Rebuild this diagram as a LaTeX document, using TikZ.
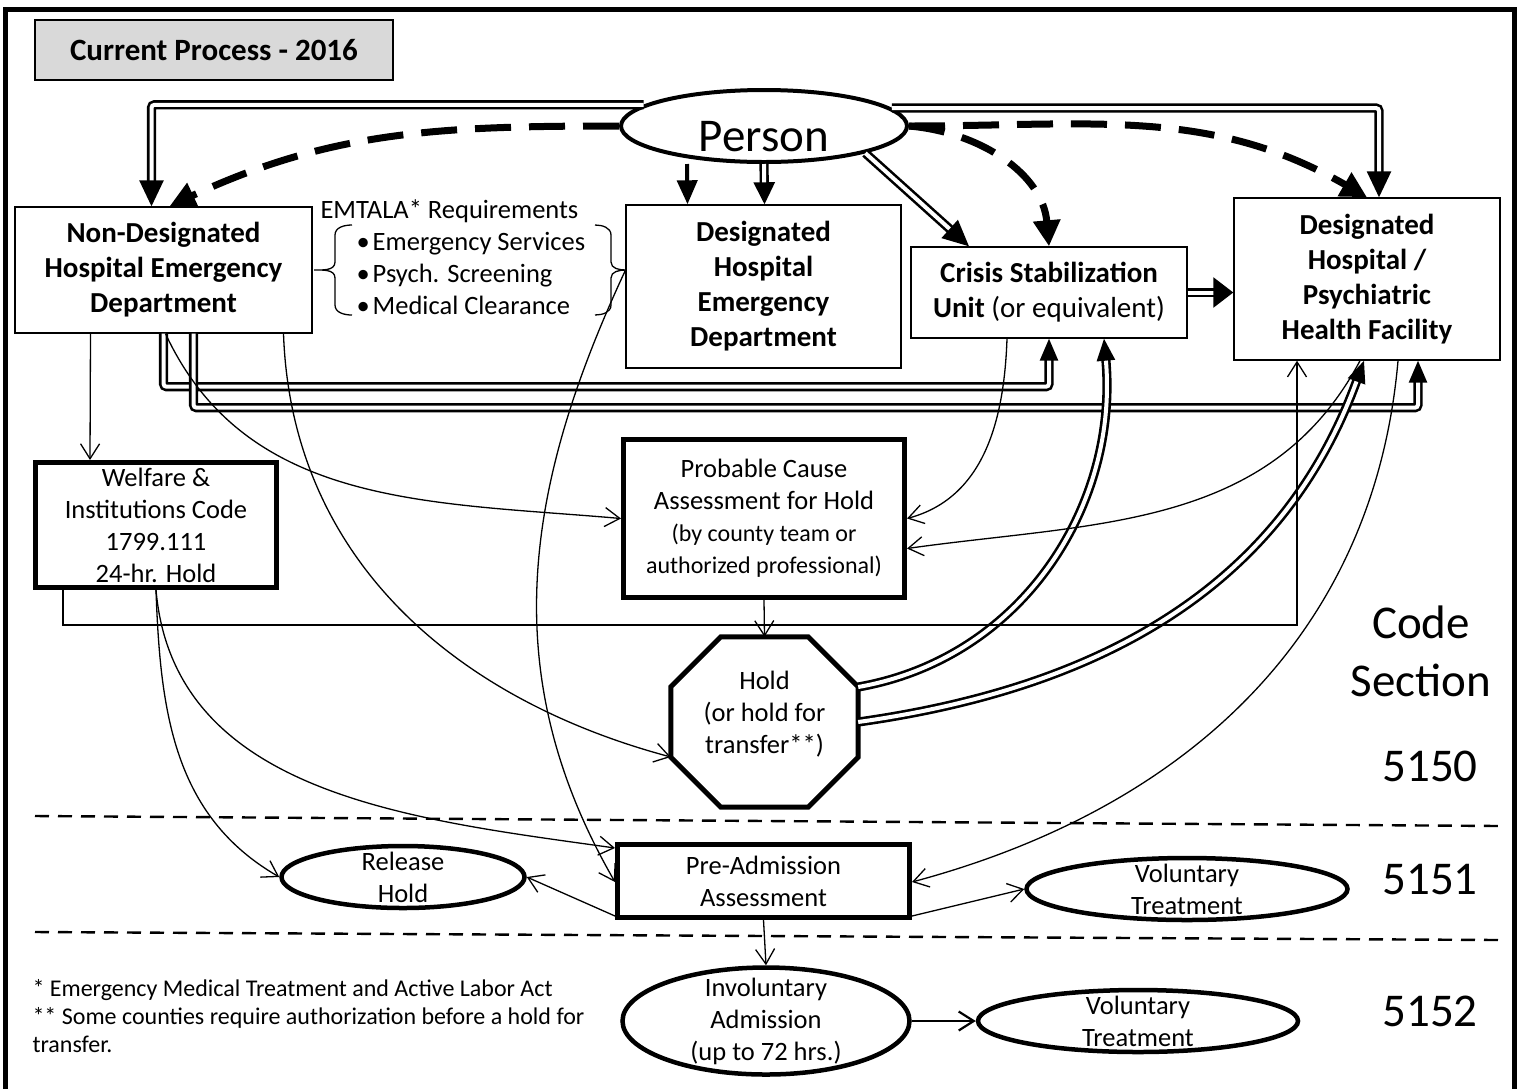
\documentclass[tikz,border=0pt]{standalone}
\usepackage{fontspec}
\setmainfont{Carlito}
\usetikzlibrary{arrows.meta}
\usetikzlibrary{shapes.geometric}
\usetikzlibrary{calc}
\newcommand{\txtreg}{\fontsize{26.5pt}{32pt}\selectfont}
\newcommand{\txtsmall}{\fontsize{24pt}{29pt}\selectfont}
\newcommand{\txtbold}{\fontsize{29pt}{35pt}\selectfont\bfseries}
\newcommand{\txtbig}{\fontsize{47pt}{58pt}\selectfont}
\newcommand{\txtnote}{\fontsize{24pt}{28pt}\selectfont}
\newcommand{\bul}{\hspace*{36pt}\textbullet\hspace{3pt}}

\begin{document}
\begin{tikzpicture}[x=1pt, y=-1pt,
	box/.style={draw, line width=1.4pt, align=center, inner sep=0pt},
	heavybox/.style={draw, line width=5pt, align=center, inner sep=0pt},
	oval/.style={draw, ellipse, line width=4.5pt, inner sep=0pt},
	thin/.style={line width=1.3pt, -{Straight Barb[length=15pt,width=19pt]}},
	dbl/.style={double, double distance=4pt, line width=2.6pt, rounded corners=3pt, -{Triangle[length=26pt,width=24pt]}},
	dasharr/.style={line width=7pt, dash pattern=on 36pt off 18pt, -{Triangle[length=26pt,width=26pt]}},
	sep/.style={line width=2.4pt, dash pattern=on 14pt off 9pt}]
	\useasboundingbox (0,0) rectangle (1525,1088);
	% frame
	\draw[line width=5pt] (5,1095) -- (5,9) -- (1514,9) -- (1514,1095);
	\node[box, fill=gray!30, minimum width=358pt, minimum height=60pt, font=\fontsize{31pt}{36pt}\selectfont\bfseries] (title) at (214,50) {Current Process - 2016};
	
	% top row
	\node[oval, line width=4pt, minimum width=286pt, minimum height=72pt, label={[yshift=-11pt, font=\txtbig]center:Person}] (person) at (764,126) {};
	\node[box, minimum width=297pt, minimum height=126pt, font=\txtbold] (ndhed) at (163.5,270) {Non-Designated\\Hospital Emergency\\Department};
	\node[box, minimum width=275pt, minimum height=163pt, font=\txtbold] (dhed) at (763.5,286.5) {Designated\\Hospital\\Emergency\\Department};
	\node[box, minimum width=276pt, minimum height=91pt, font=\txtbold] (csu) at (1049,292.5) {Crisis Stabilization\\Unit {\mdseries (or equivalent)}};
	\node[box, minimum width=266pt, minimum height=162pt, font=\txtbold] (dh) at (1367,279) {Designated\\Hospital /\\Psychiatric\\Health Facility};
	\node[font=\txtreg, align=left, anchor=west] (emtala) at (317,257) {EMTALA* Requirements\\\bul Emergency Services\\\bul Psych. Screening\\\bul Medical Clearance};
	% braces
	\draw[line width=1.3pt] (352,225) to[out=180,in=90] (335,235) -- (335,262) to[out=-90,in=0] (314,270) to[out=0,in=90] (335,278) -- (335,305) to[out=-90,in=180] (352,315);
	\draw[line width=1.3pt] (595,225) to[out=0,in=90] (611,235) -- (611,262) to[out=-90,in=180] (626,270) to[out=180,in=90] (611,278) -- (611,305) to[out=-90,in=0] (595,315);
	
	% middle row
	\node[heavybox, minimum width=241pt, minimum height=125pt, font=\txtreg] (welfare) at (156,525) {Welfare \&\\Institutions Code\\1799.111\\24-hr. Hold};
	\node[heavybox, minimum width=281pt, minimum height=158pt, font=\txtreg] (pca) at (764,518.5) {Probable Cause\\Assessment for Hold\\{\txtsmall (by county team or}\\{\txtsmall authorized professional)}};
	\node[minimum width=187pt, minimum height=170pt, inner sep=0pt, label={[yshift=8pt, align=center, font=\txtreg]center:Hold\\(or hold for\\transfer**)}] (hold) at (764.5,722) {};
	\draw[line width=5pt] ([xshift=50pt]hold.north west) -- ([xshift=-50pt]hold.north east) -- ([yshift=-50pt]hold.north east) -- ([yshift=50pt]hold.south east) -- ([xshift=-50pt]hold.south east) -- ([xshift=50pt]hold.south west) -- ([yshift=50pt]hold.south west) -- ([yshift=-50pt]hold.north west) -- cycle;
	
	% code sections
	\node[font=\txtbig, align=center] (codesec) at (1421,651) {Code\\Section};
	\node[font=\txtbig] (c5150) at (1430,766) {5150};
	\node[font=\txtbig] (c5151) at (1430,880) {5151};
	\node[font=\txtbig] (c5152) at (1430,1011) {5152};
	\draw[sep] (35,816) -- (1500,826);
	\draw[sep] (35,932) -- (1500,940);
	
	% bottom rows
	\node[heavybox, minimum width=292pt, minimum height=73pt, font=\txtreg] (pa) at (763.5,881) {Pre-Admission\\Assessment};
	\node[oval, minimum width=243pt, minimum height=62pt, label={[align=center, font=\txtreg]center:Release\\Hold}] (rh) at (403,877) {};
	\node[oval, minimum width=321pt, minimum height=62pt, label={[align=center, font=\txtreg]center:Voluntary\\Treatment}] (vt1) at (1187,889) {};
	\node[oval, minimum width=287pt, minimum height=107pt, label={[align=center, font=\txtreg]center:Involuntary\\Admission\\(up to 72 hrs.)}] (ia) at (766,1021) {};
	\node[oval, minimum width=320pt, minimum height=62pt, label={[align=center, font=\txtreg]center:Voluntary\\Treatment}] (vt2) at (1138,1021) {};
	\node[font=\txtnote, align=left, anchor=west] (notes) at (29,1016) {* Emergency Medical Treatment and Active Labor Act\\** Some counties require authorization before a hold for\\transfer.};
	
	% person to the hospitals
	\draw[dbl] (person.170) -| ([xshift=-12pt]ndhed.north);
	\draw[dbl] (person.8) -| ([xshift=12pt]dh.north);
	\draw[dasharr] (person.west) to[out=180,in=25] ([xshift=6pt]ndhed.north);
	\draw[dasharr] (person.east) to[out=0,in=150] (dh.north);
	\draw[dasharr] (person.east) to[out=-5,in=95] (csu.north);
	\draw[line width=4pt, -{Triangle[length=24pt,width=20pt]}] ([xshift=-77pt]person.south) -- ([xshift=-76pt]dhed.north);
	\draw[dbl, -{Triangle[length=22pt,width=21pt]}] (person.south) -- ([xshift=1pt]dhed.north);
	\draw[dbl] (person.-15) -- ([xshift=-80pt]csu.north);
	\draw[dbl, -{Triangle[length=20pt,width=30pt]}] (csu.east) -- (csu.east -| dh.west);
	
	% transfers
	\draw[dbl, -{Triangle[length=22pt,width=18pt]}] (ndhed.south) -- ++(0,53) -| (csu.south);
	\draw[dbl, -{Triangle[length=22pt,width=18pt]}] ([xshift=30pt]ndhed.south) -- ++(0,74) -| ([xshift=51pt]dh.south);
	\draw[dbl, -{Triangle[length=22pt,width=18pt]}] ([yshift=35pt]hold.east) to[out=10,in=-85] ([xshift=55pt]csu.south);
	\draw[dbl, -{Triangle[length=22pt,width=18pt]}] (hold.east) to[out=8,in=-110] ([xshift=-3pt]dh.south);
	
	% thin arrows
	\draw[thin] ([xshift=-73pt]ndhed.south) -- ([xshift=-66pt]welfare.north);
	\draw[thin] ([xshift=2pt]ndhed.south) to[out=-65,in=175] (pca.west);
	\draw[thin] ([xshift=120pt]ndhed.south) to[out=-88,in=165] ([yshift=-35pt]hold.west);
	\draw[thin] (welfare.south) to[out=-85,in=172] ([yshift=33pt]pa.west);
	\draw[thin] (welfare.south) to[out=-88,in=150] (rh.west);
	\draw[thin] ([xshift=-93pt]welfare.south) -- ++(0,35) -| ([xshift=-70pt]dh.south);
	\draw[thin] ([yshift=16pt]dhed.west) to[out=245,in=120] ([yshift=-1pt]pa.west);
	\draw[thin] ([xshift=-42pt]csu.south) to[out=-92,in=15] (pca.east);
	\draw[thin] ([xshift=-7pt]dh.south) to[out=-118,in=8] ([yshift=-30pt]pca.east);
	\draw[thin] ([xshift=31pt]dh.south) to[out=-95,in=15] ([yshift=-1pt]pa.east);
	\draw[thin] (pca.south) -- (hold.north);
	\draw[thin] ([yshift=4pt]pa.south west) -- (rh.east);
	\draw[thin] ([yshift=4pt]pa.south east) -- (vt1.west);
	\draw[thin] (pa.south) -- (ia.north);
	\draw[thin, line width=2.2pt] (ia.east) -- (vt2.west);
\end{tikzpicture}
\end{document}
